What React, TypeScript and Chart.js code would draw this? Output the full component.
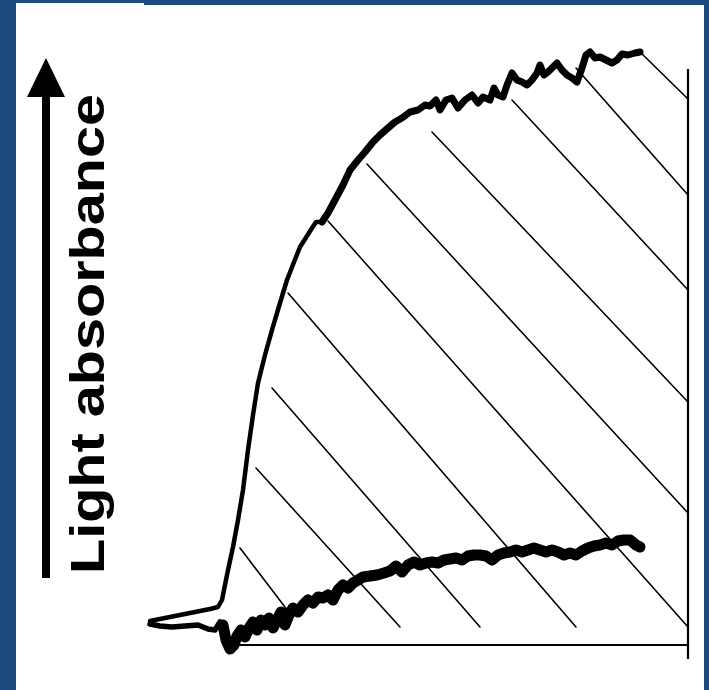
import React, { useEffect, useRef } from "react";
import { Chart, registerables } from "chart.js";

Chart.register(...registerables);

// Trace recorded with stimulus (time in s, absorbance in mOD)
const upperTime = [
  0, 5, 10, 15, 20, 25, 30, 34, 36, 37.5, 39, 41.5, 44, 46.5, 49, 51.5, 54, 57.5, 61, 65,
  68.5, 72, 75, 78.5, 81, 83, 86, 89, 92.5, 96.5, 100, 104, 107.5, 111.5, 115, 119, 122.5,
  126, 130, 134, 137.5, 140, 143, 145, 148, 151, 154, 157.5, 161, 164, 166.5, 170, 172,
  174, 176.5, 178.5, 181, 183.5, 186, 188.5, 191, 193.5, 195, 197, 199, 201, 203.5, 206,
  208.5, 211, 213.5, 216, 218, 220, 222.5, 225, 228, 231, 233.5, 236, 239, 242.5, 245,
];
const upperAbs = [
  12, 13, 14, 15, 16, 17, 18, 19, 22.5, 30, 37.5, 49, 62.5, 77.5, 97.5, 115, 131, 145, 157.5, 171,
  182.5, 191.5, 199, 204.5, 208.5, 211.5, 211.5, 216, 222.5, 230, 237.5, 242.5, 246.5, 251.5, 255, 258.5, 261.5,
  263.5, 266.5, 267.5, 270, 269.5, 272.5, 267.5, 272.5, 273.5, 268.5, 272.5, 275, 271, 274, 272.5, 278.5,
  275, 274, 280, 286, 282.5, 281.5, 280, 282.5, 286, 290, 285, 286.5, 288.5, 291, 287.5,
  285, 283.5, 281.5, 288.5, 295, 296.5, 293.5, 294, 292.5, 291, 292.5, 295.5, 295, 296, 296.5,
];

// Control trace
const lowerTime = [
  0, 5, 11, 17.5, 24, 29, 32.5, 35, 36.5, 38, 40, 42, 43.5, 45.5, 47.5, 49.5, 51.5, 53.5, 55.5,
  57.5, 59.5, 61.5, 63.5, 65.5, 67.5, 69.5, 71.5, 74, 76.5, 79, 81.5, 84, 86.5, 89, 91.5, 94,
  96.5, 99, 101.5, 104, 106.5, 110, 113.5, 117, 120, 123, 126, 129, 132, 135, 138, 141, 144,
  147, 150, 153, 156, 159, 162, 165, 168, 171, 174, 177, 180, 183, 186, 189, 192, 195, 198,
  201, 204, 207, 210, 213, 216, 219, 222, 225, 228, 231, 234, 237, 240, 243, 245,
];
const lowerAbs = [
  10.5, 9.5, 9, 9.5, 10, 8, 7.5, 11.5, 10, 2.5, -2, 0, 4.5, 7.5, 4, 8.5, 11.5, 7.5, 12.5,
  10, 13.5, 8.5, 12.5, 16.5, 10, 15, 18.5, 16.5, 20, 22.5, 21, 24, 23.5, 25, 22.5, 27.5,
  30, 28.5, 31, 32.5, 34, 34.5, 35, 36, 37, 39.5, 36.5, 40, 41.5, 40, 41, 41.5, 41,
  42.5, 43, 43.5, 42.5, 44.5, 45, 45, 44.5, 42.5, 45, 46, 46.5, 47.5, 46.5, 47.5, 48.5, 47.5, 46.5,
  47.5, 46.5, 45, 46, 45, 47, 48.5, 49.5, 50, 51, 50, 52, 52.5, 52.5, 50, 49,
];

// Shaded area between the traces: hatch segments
const hatchStartTime = [45, 53, 61, 69, 89, 108.5, 141, 181, 213, 245];
const hatchStartAbs = [48.5, 88.5, 128.5, 176, 212, 240.5, 256.5, 272.5, 288.5, 296.5];
const hatchEndTime = [69, 125, 165, 213, 269, 269, 269, 269, 269, 269];
const hatchEndAbs = [17, 9, 9, 9, 9, 66, 121.5, 177.5, 225, 273];

// Outline of the shaded area
const baseTime = [39, 269];
const baseAbs = [0, 0];
const edgeTime = [269, 269];
const edgeAbs = [-7, 288];

// Arrow beside the y axis runs between these absorbance levels
const arrowFrom = 33.5;
const arrowTo = 293.5;

const axisTitle = "Light absorbance";

const BLUE = "#1f4a7e";

const pts = (xs: number[], ys: number[]) => xs.map((x, i) => ({ x, y: ys[i] }));

const framePlugin = {
  id: "frame",
  beforeDraw(chart: any) {
    const { ctx, width, height } = chart;
    ctx.save();
    ctx.fillStyle = BLUE;
    ctx.fillRect(0, 0, width, height);
    ctx.fillStyle = "#ffffff";
    ctx.fillRect(16, 5, 688, height - 5);
    ctx.fillRect(16, 3, 128, 3);
    ctx.restore();
  },
  afterDraw(chart: any) {
    const { ctx } = chart;
    const y = chart.scales.y;
    ctx.save();
    const ax = 46;
    const yBottom = y.getPixelForValue(arrowFrom);
    const yTip = y.getPixelForValue(arrowTo);
    ctx.strokeStyle = "#000";
    ctx.fillStyle = "#000";
    ctx.lineWidth = 8;
    ctx.beginPath();
    ctx.moveTo(ax, yBottom);
    ctx.lineTo(ax, yTip + 30);
    ctx.stroke();
    ctx.beginPath();
    ctx.moveTo(ax, yTip);
    ctx.lineTo(ax - 19, yTip + 39);
    ctx.lineTo(ax + 19, yTip + 39);
    ctx.closePath();
    ctx.fill();
    // axis title, reading upwards
    const midY = (y.getPixelForValue(274) + y.getPixelForValue(37)) / 2;
    ctx.translate(104, midY);
    ctx.rotate(-Math.PI / 2);
    ctx.scale(1.2, 1);
    ctx.font = "bold 48px 'Liberation Sans', Arial, sans-serif";
    ctx.textAlign = "center";
    ctx.textBaseline = "alphabetic";
    ctx.fillText(axisTitle, 0, 0);
    ctx.restore();
  },
};

export default function App() {
  const ref = useRef<HTMLCanvasElement | null>(null);

  useEffect(() => {
    if (!ref.current) return;
    const line = (data: { x: number; y: number }[], width: number) => ({
      data,
      borderColor: "#000",
      backgroundColor: "#000",
      borderWidth: width,
      pointRadius: 0,
      tension: 0,
      fill: false,
      clip: false as const,
      borderJoinStyle: "round" as const,
      borderCapStyle: "round" as const,
    });
    const hatch = hatchStartTime.map((t, i) =>
      line(pts([t, hatchEndTime[i]], [hatchStartAbs[i], hatchEndAbs[i]]), 1.6)
    );
    // the noisy plateau and the control trace are drawn heavier than the rise
    const upper = {
      ...line(pts(upperTime, upperAbs), 4.5),
      segment: { borderWidth: (c: any) => (c.p0.parsed.x >= 86 ? 7 : 4.5) },
    };
    const lower = {
      ...line(pts(lowerTime, lowerAbs), 11),
      segment: { borderWidth: (c: any) => (c.p0.parsed.x < 36 ? 5.5 : 11) },
    };
    const chart = new Chart(ref.current, {
      type: "line",
      data: {
        datasets: [
          ...hatch,
          { ...line(pts(baseTime, baseAbs), 2.2), borderCapStyle: "butt" as const },
          { ...line(pts(edgeTime, edgeAbs), 2.2), borderCapStyle: "butt" as const },
          lower,
          upper,
        ],
      },
      options: {
        responsive: false,
        animation: false,
        events: [],
        layout: { padding: { left: 140, right: 9, top: 45, bottom: 45 } },
        scales: {
          x: { type: "linear", min: -5, max: 275, display: false },
          y: { type: "linear", min: 0, max: 300, display: false },
        },
        plugins: {
          legend: { display: false },
          tooltip: { enabled: false },
          title: { display: false },
        },
      },
      plugins: [framePlugin],
    });
    return () => chart.destroy();
  }, []);

  return (
    <div style={{ position: "absolute", left: 0, top: 0, width: 709, height: 690 }}>
      <canvas ref={ref} width={709} height={690} style={{ display: "block" }} />
    </div>
  );
}
